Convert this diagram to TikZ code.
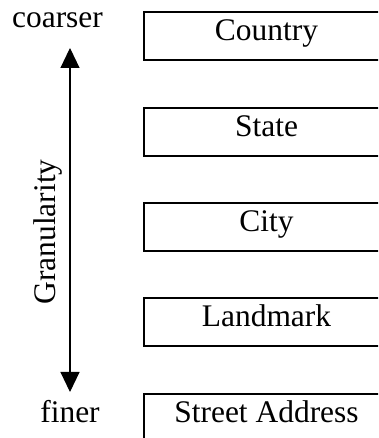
\documentclass[tikz,border=0pt]{standalone}
\usepackage{fontspec}
\setmainfont{Liberation Serif}
\usetikzlibrary{arrows.meta}
\newcommand{\gransize}{\fontsize{17.9}{21}\selectfont}
\begin{document}
\begin{tikzpicture}[
    level/.style={rectangle, draw=black, fill=white, minimum width=4.9cm,
        minimum height=0.96cm, text height=0.68em, text depth=0.22em,
        inner sep=0pt, line width=0.6pt, font=\gransize},
    tag/.style={font=\gransize, inner sep=0pt, anchor=base},
    axis/.style={line width=0.6pt, draw=black,
        {Triangle[length=0.4cm, width=0.38cm]}-{Triangle[length=0.4cm, width=0.38cm]}},
]
  \useasboundingbox (0,0) rectangle (7.56,8.76);
  \clip (0,0) rectangle (7.56,8.76);
  % levels of location granularity
  \node[level] (l_country) at (5.33, 8.04) {Country};
  \node[level] (l_state) at (5.33, 6.12) {State};
  \node[level] (l_city) at (5.33, 4.22) {City};
  \node[level] (l_landmark) at (5.33, 2.32) {Landmark};
  \node[level] (l_street) at (5.33, 0.40) {Street Address};
  % granularity axis
  \node[tag] (t_coarser) at (1.15, 8.20) {coarser};
  \node[tag] (t_finer) at (1.40, 0.30) {finer};
  \coordinate (a_top) at (1.40, 7.80);
  \coordinate (a_bottom) at (1.40, 0.92);
  \draw[axis] (a_top) -- (a_bottom);
  \node[tag, rotate=90] (t_granularity) at (1.10, 4.12) {Granularity};
\end{tikzpicture}
\end{document}
